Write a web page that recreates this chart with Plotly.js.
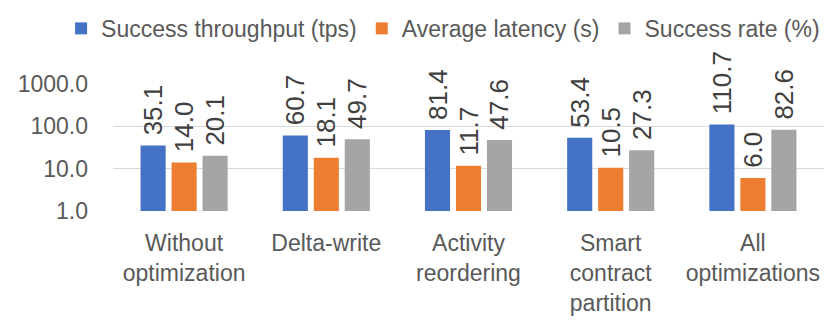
<!DOCTYPE html>
<html>
<head>
<meta charset="utf-8">
<script src="https://cdn.plot.ly/plotly-3.0.1.min.js"></script>
<style>
  html, body { margin: 0; padding: 0; background: #fff; }
  #chart { width: 831px; height: 331px; }
</style>
</head>
<body>
<div id="chart"></div>
<script>
//Data
const categories = [
  "Without<br>optimization",
  "Delta-write",
  "Activity<br>reordering",
  "Smart<br>contract<br>partition",
  "All<br>optimizations"
];
const throughput = [35.1, 60.7, 81.4, 53.4, 110.7];
const latency = [14.0, 18.1, 11.7, 10.5, 6.0];
const successRate = [20.1, 49.7, 47.6, 27.3, 82.6];
const yTicks = [1, 10, 100, 1000];

const seriesNames = ["Success throughput (tps)", "Average latency (s)", "Success rate (%)"];
const seriesValues = [throughput, latency, successRate];
const colors = ["#4472C4", "#ED7D31", "#A5A5A5"];

const font = "Liberation Sans, Arial, sans-serif";

//Bars (nbsp keeps a small gap between bar top and its label)
const traces = seriesValues.map((vals, i) => ({
  type: "bar",
  name: seriesNames[i],
  x: categories,
  y: vals,
  marker: { color: colors[i] },
  texttemplate: "\u00a0%{y:.1f}",
  textposition: "outside",
  textangle: -90,
  constraintext: "none",
  cliponaxis: false,
  textfont: { family: font, size: 26, color: "#404040" },
  hoverinfo: "skip"
}));

const layout = {
  width: 831,
  height: 331,
  margin: { l: 113, r: 7, t: 82, b: 120 },
  paper_bgcolor: "#fff",
  plot_bgcolor: "#fff",
  font: { family: font, color: "#595959", size: 23 },
  barmode: "group",
  bargap: 0.346,
  bargroupgap: 0.19,
  showlegend: true,
  //legend sits left of the plot area in x so it may use the full width
  legend: {
    orientation: "h",
    x: -0.073, xanchor: "left",
    y: 1.607, yanchor: "top",
    bgcolor: "rgba(0,0,0,0)",
    font: { family: font, size: 23, color: "#595959" },
    itemclick: false
  },
  xaxis: {
    type: "category",
    showgrid: false,
    showline: false,
    zeroline: false,
    ticks: "",
    ticklabelstandoff: 16,
    tickfont: { family: font, size: 23, color: "#595959" }
  },
  yaxis: {
    type: "log",
    range: [0, 3],
    tickvals: yTicks,
    tickformat: ".1f",
    showgrid: true,
    gridcolor: "#D9D9D9",
    gridwidth: 1,
    showline: false,
    zeroline: false,
    ticks: "",
    ticklabelstandoff: 24,
    tickfont: { family: font, size: 23, color: "#595959" }
  }
};

Plotly.newPlot("chart", traces, layout, { staticPlot: true, displayModeBar: false });
</script>
</body>
</html>
